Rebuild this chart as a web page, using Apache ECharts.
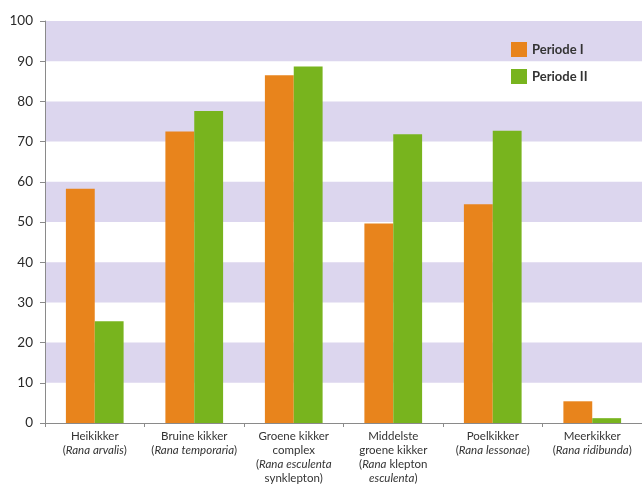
<!DOCTYPE html>
<html>
<head>
<meta charset="utf-8">
<script src="https://cdn.jsdelivr.net/npm/echarts@6/dist/echarts.min.js"></script>
<style>
  html, body { margin: 0; padding: 0; background: #ffffff; }
  #chart { width: 642px; height: 485px; }
</style>
</head>
<body>
<div id="chart"></div>
<script>
// Frog species (Dutch name) and their scientific names
const speciesNames = ['Heikikker', 'Bruine kikker', 'Groene kikker\ncomplex', 'Middelste\ngroene kikker', 'Poelkikker', 'Meerkikker'];
const latinNames = ['(Rana arvalis)', '(Rana temporaria)', '(Rana esculenta\nsynklepton)', '(Rana klepton\nesculenta)', '(Rana lessonae)', '(Rana ridibunda)'];

// Percentages per period
const periode1 = [58.3, 72.5, 86.5, 49.6, 54.4, 5.4];
const periode2 = [25.3, 77.6, 88.7, 71.8, 72.7, 1.2];

const seriesNames = ['Periode I', 'Periode II'];
const yTicks = { min: 0, max: 100, interval: 10 };

// Rank terms stay upright; genus/species words are set in italics
const uprightTerms = new Set(['klepton', 'synklepton']);

function styleLatin(text) {
  return text.split('\n').map(line =>
    line.replace(/[A-Za-z]+/g, w => uprightTerms.has(w) ? '{n|' + w + '}' : '{i|' + w + '}')
        .replace(/([()])/g, '{n|$1}')
  ).join('\n');
}

const labelFont = 'Lato, "Open Sans", sans-serif';
const textColor = '#333333';

const chart = echarts.init(document.getElementById('chart'));
chart.setOption({
  animation: false,
  backgroundColor: '#ffffff',
  grid: { left: 45, top: 21, width: 602, bottom: 60, containLabel: false },
  legend: {
    data: seriesNames,
    orient: 'vertical',
    left: 506,
    top: 37,
    itemWidth: 16,
    itemHeight: 15,
    itemGap: 12,
    icon: 'rect',
    textStyle: { fontFamily: labelFont, fontSize: 13, fontWeight: 'bold', color: '#333' }
  },
  xAxis: {
    type: 'category',
    data: speciesNames,
    axisLine: { lineStyle: { color: '#8a8a8a', width: 1 } },
    axisTick: { show: true, length: 4, alignWithLabel: false, lineStyle: { color: '#8a8a8a' } },
    axisLabel: {
      interval: 0,
      margin: 6,
      fontFamily: labelFont,
      fontSize: 11.5,
      lineHeight: 14,
      color: textColor,
      formatter: (value, idx) => value.split('\n').map(l => '{n|' + l + '}').join('\n') + '\n' + styleLatin(latinNames[idx]),
      rich: {
        n: { fontFamily: labelFont, fontSize: 11.5, lineHeight: 14, color: textColor },
        i: { fontFamily: labelFont, fontSize: 11.5, lineHeight: 14, color: textColor, fontStyle: 'italic' }
      }
    }
  },
  yAxis: {
    type: 'value',
    min: yTicks.min,
    max: yTicks.max,
    interval: yTicks.interval,
    axisLine: { show: true, lineStyle: { color: '#8a8a8a', width: 1 } },
    axisTick: { show: true, length: 5, lineStyle: { color: '#8a8a8a' } },
    axisLabel: { fontFamily: labelFont, fontSize: 13.5, color: '#2a2a2a', margin: 12 },
    splitLine: { show: false },
    splitArea: { show: true, areaStyle: { color: ['rgba(255,255,255,0)', '#dcd6ee'] } }
  },
  series: [
    {
      name: seriesNames[0],
      type: 'bar',
      data: periode1,
      barGap: '0%',
      barCategoryGap: '42%',
      itemStyle: { color: '#e8841c' }
    },
    {
      name: seriesNames[1],
      type: 'bar',
      data: periode2,
      barGap: '0%',
      barCategoryGap: '42%',
      itemStyle: { color: '#78b41e' }
    }
  ]
});
</script>
</body>
</html>
